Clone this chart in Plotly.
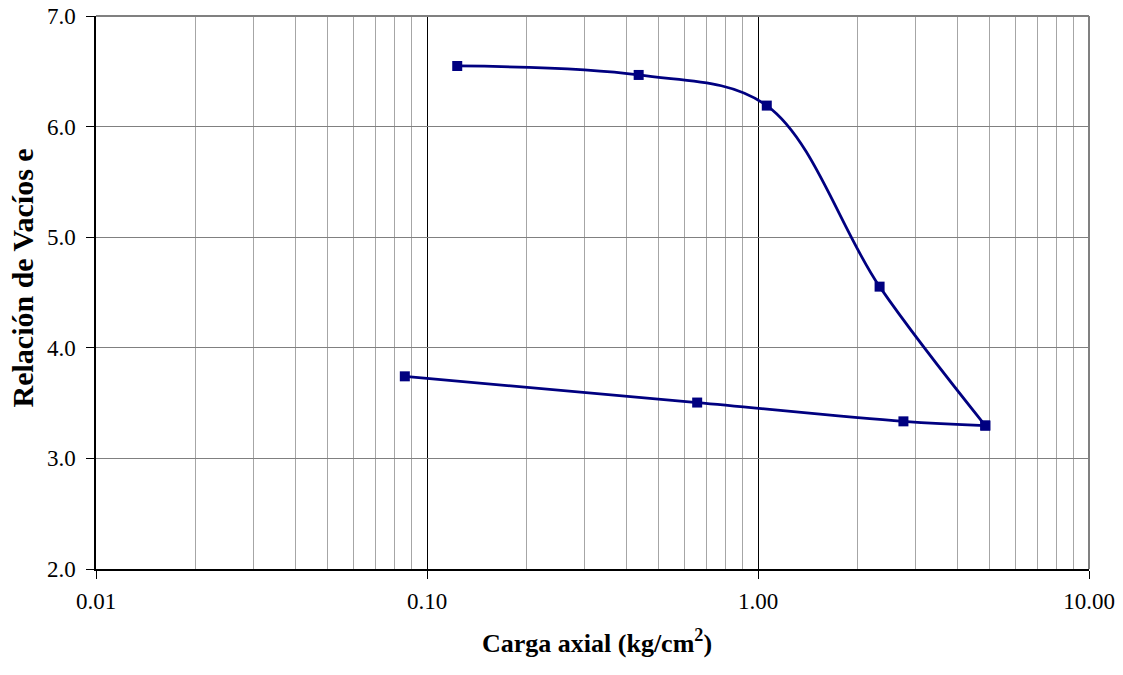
import plotly.graph_objects as go

# Consolidation test: axial load (kg/cm2) vs. void ratio e
carga_carga = [0.1234, 0.436, 1.063, 2.33, 4.86]
e_carga = [6.548, 6.467, 6.19, 4.553, 3.297]

carga_descarga = [4.86, 2.75, 0.655, 0.0857]
e_descarga = [3.297, 3.335, 3.505, 3.742]

x_ticks = [0.01, 0.1, 1, 10]
x_ticktext = ["0.01", "0.10", "1.00", "10.00"]
x_minor = [m * d for d in (0.01, 0.1, 1) for m in range(2, 10)]

NAVY = "#000080"
FONT = "Liberation Serif, Times New Roman, serif"

fig = go.Figure()
for xs, ys in ((carga_carga, e_carga), (carga_descarga, e_descarga)):
    fig.add_trace(go.Scatter(
        x=xs, y=ys, mode="lines+markers",
        line=dict(color=NAVY, width=2.75, shape="spline", smoothing=1.0),
        marker=dict(symbol="square", size=10, color=NAVY),
        showlegend=False, hoverinfo="x+y",
    ))

fig.update_layout(
    width=1123, height=675,
    margin=dict(l=96, r=34, t=16, b=106, autoexpand=False),
    paper_bgcolor="white", plot_bgcolor="white",
    font=dict(family=FONT, size=23, color="black"),
    xaxis=dict(
        type="log", range=[-2, 1], automargin=False,
        tickvals=x_ticks, ticktext=x_ticktext,
        showgrid=True, gridcolor="#000000", gridwidth=1,
        ticks="outside", ticklen=8, tickcolor="black", tickwidth=1,
        showline=True, linecolor="black", linewidth=1.5,
        zeroline=False,
        minor=dict(tickvals=x_minor, showgrid=True, gridcolor="#a6a6a6", gridwidth=1, ticks=""),
        ticklabelstandoff=3,
    ),
    yaxis=dict(
        range=[2, 7], dtick=1, tick0=2, tickformat=".1f", automargin=False,
        showgrid=True, gridcolor="#808080", gridwidth=1,
        ticks="outside", ticklen=8, tickcolor="black", tickwidth=1,
        showline=True, linecolor="black", linewidth=1.5,
        zeroline=False,
        ticklabelstandoff=6,
    ),
    shapes=[
        dict(type="line", xref="paper", yref="paper", x0=0, x1=1, y0=1, y1=1,
             line=dict(color="#808080", width=2)),
        dict(type="line", xref="paper", yref="paper", x0=1, x1=1, y0=0, y1=1,
             line=dict(color="#808080", width=2)),
    ],
    annotations=[
        dict(text="<b>Carga axial (kg/cm<sup>2</sup>)</b>", xref="paper", yref="paper",
             x=0.5, y=0, xanchor="center", yanchor="middle", xshift=4, yshift=-72,
             showarrow=False, font=dict(family=FONT, size=26)),
        dict(text="<b>Relación de Vacíos e</b>", xref="paper", yref="paper",
             x=0, y=0.5, xanchor="center", yanchor="middle", xshift=-74, yshift=14,
             textangle=-90, showarrow=False, font=dict(family=FONT, size=30)),
    ],
)

fig.write_html("out.html")
